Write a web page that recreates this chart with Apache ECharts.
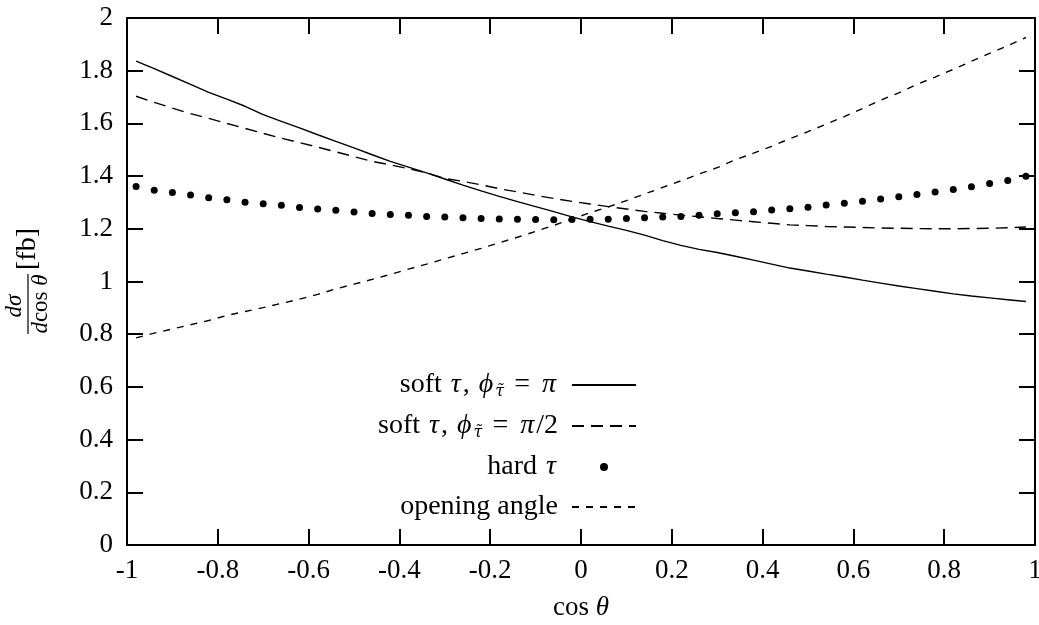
<!DOCTYPE html>
<html>
<head>
<meta charset="utf-8">
<script src="https://cdn.jsdelivr.net/npm/echarts@6/dist/echarts.min.js"></script>
<style>
  html, body { margin: 0; padding: 0; background: #fff; }
  #chart { width: 1039px; height: 625px; }
</style>
</head>
<body>
<div id="chart"></div>
<script>
// Sampling points along cos(theta)
const cosTheta = [
  -0.98, -0.94, -0.90, -0.86, -0.82, -0.78, -0.74, -0.70, -0.66, -0.62,
  -0.58, -0.54, -0.50, -0.46, -0.42, -0.38, -0.34, -0.30, -0.26, -0.22,
  -0.18, -0.14, -0.10, -0.06, -0.02, 0.02, 0.06, 0.10, 0.14, 0.18,
  0.22, 0.26, 0.30, 0.34, 0.38, 0.42, 0.46, 0.50, 0.54, 0.58,
  0.62, 0.66, 0.70, 0.74, 0.78, 0.82, 0.86, 0.90, 0.94, 0.98
];

// dσ/dcosθ [fb], soft tau, phi = pi
const softPi = [
  1.836, 1.808, 1.778, 1.748, 1.718, 1.692, 1.665, 1.633, 1.608, 1.583,
  1.557, 1.532, 1.507, 1.481, 1.456, 1.434, 1.412, 1.389, 1.366, 1.344,
  1.323, 1.303, 1.284, 1.265, 1.245, 1.227, 1.210, 1.194, 1.176, 1.155,
  1.137, 1.122, 1.110, 1.096, 1.081, 1.066, 1.051, 1.040, 1.028, 1.017,
  1.005, 0.994, 0.983, 0.973, 0.963, 0.953, 0.945, 0.938, 0.931, 0.924
];

// soft tau, phi = pi/2
const softHalfPi = [
  1.703, 1.680, 1.658, 1.637, 1.619, 1.600, 1.581, 1.562, 1.544, 1.527,
  1.510, 1.492, 1.474, 1.456, 1.443, 1.428, 1.412, 1.391, 1.380, 1.367,
  1.352, 1.340, 1.327, 1.315, 1.304, 1.294, 1.284, 1.275, 1.266, 1.259,
  1.252, 1.246, 1.239, 1.233, 1.227, 1.221, 1.215, 1.212, 1.209, 1.207,
  1.205, 1.203, 1.202, 1.201, 1.200, 1.200, 1.201, 1.202, 1.204, 1.207
];

// hard tau
const hardTau = [
  1.361, 1.346, 1.338, 1.328, 1.318, 1.310, 1.301, 1.295, 1.289, 1.281,
  1.275, 1.270, 1.264, 1.258, 1.254, 1.251, 1.247, 1.245, 1.242, 1.239,
  1.237, 1.236, 1.235, 1.234, 1.235, 1.236, 1.236, 1.239, 1.242, 1.245,
  1.247, 1.251, 1.257, 1.261, 1.265, 1.271, 1.276, 1.282, 1.290, 1.297,
  1.305, 1.313, 1.322, 1.330, 1.340, 1.349, 1.360, 1.372, 1.383, 1.399
];

// opening angle
const openingAngle = [
  0.786, 0.804, 0.820, 0.836, 0.852, 0.871, 0.886, 0.901, 0.917, 0.933,
  0.951, 0.972, 0.990, 1.008, 1.027, 1.047, 1.066, 1.086, 1.106, 1.126,
  1.147, 1.168, 1.190, 1.213, 1.237, 1.261, 1.283, 1.307, 1.332, 1.357,
  1.382, 1.408, 1.432, 1.462, 1.487, 1.513, 1.542, 1.569, 1.597, 1.626,
  1.656, 1.688, 1.716, 1.748, 1.776, 1.805, 1.836, 1.866, 1.895, 1.926
];

const seriesNames = ['soft τ, ϕτ̃ = π', 'soft τ, ϕτ̃ = π/2', 'hard τ', 'opening angle'];
const legendLabels = {
  'soft τ, ϕτ̃ = π': '{r|soft }{i|τ}{r|, }{i|ϕ}{sub|τ̃}{eq|=}{i|π}{g| }',
  'soft τ, ϕτ̃ = π/2': '{r|soft }{i|τ}{r|, }{i|ϕ}{sub|τ̃}{eq|=}{i|π}{r|/2}{g| }',
  'hard τ': '{r|hard }{i|τ}{g| }',
  'opening angle': '{r|opening angle}{g| }'
};

const serif = 'Liberation Serif';
const ink = '#000';
const frame = { color: ink, width: 2 };

function pairs(ys) {
  return cosTheta.map((x, i) => [x, ys[i]]);
}

const richText = {
  r: { fontFamily: serif, fontSize: 28, color: ink },
  i: { fontFamily: serif, fontSize: 28, fontStyle: 'italic', color: ink, padding: [0, 2, 0, 2] },
  sub: { fontFamily: 'DejaVu Serif', fontSize: 16, fontStyle: 'italic', color: ink, padding: [14, 0, 0, 0] },
  eq: { fontFamily: serif, fontSize: 28, color: ink, padding: [0, 10, 0, 10] },
  g: { width: 9 }
};

const nameRich = {
  r: { fontFamily: serif, fontSize: 27, color: ink },
  i: { fontFamily: serif, fontSize: 27, fontStyle: 'italic', color: ink }
};

const lineLegendItem = name => ({ name, itemStyle: { opacity: 0 } });

const chart = echarts.init(document.getElementById('chart'), null, { renderer: 'canvas' });

chart.setOption({
  animation: false,
  backgroundColor: '#fff',
  grid: { left: 127, right: 4, top: 18, bottom: 80, containLabel: false, outerBoundsMode: 'none' },
  legend: {
    orient: 'vertical',
    align: 'right',
    right: 402,
    top: 371,
    padding: 0,
    itemGap: 12,
    itemWidth: 64,
    itemHeight: 8,
    selectedMode: false,
    data: [
      lineLegendItem(seriesNames[0]),
      lineLegendItem(seriesNames[1]),
      { name: seriesNames[2] },
      lineLegendItem(seriesNames[3])
    ],
    formatter: name => legendLabels[name],
    textStyle: { color: ink, fontFamily: serif, fontSize: 28, lineHeight: 28, rich: richText }
  },
  xAxis: [
    {
      type: 'value', min: -1, max: 1, interval: 0.2, position: 'bottom',
      axisLine: { show: true, onZero: false, lineStyle: frame },
      axisTick: { show: true, inside: true, length: 16, lineStyle: frame },
      axisLabel: { color: ink, fontFamily: serif, fontSize: 27, margin: 12 },
      splitLine: { show: false },
      name: '{r|cos }{i|θ}',
      nameLocation: 'middle',
      nameGap: 49,
      nameTextStyle: { rich: nameRich }
    },
    {
      type: 'value', min: -1, max: 1, interval: 0.2, position: 'top',
      axisLine: { show: true, onZero: false, lineStyle: frame },
      axisTick: { show: true, inside: true, length: 16, lineStyle: frame },
      axisLabel: { show: false },
      splitLine: { show: false }
    }
  ],
  yAxis: [
    {
      type: 'value', min: 0, max: 2, interval: 0.2, position: 'left',
      axisLine: { show: true, onZero: false, lineStyle: frame },
      axisTick: { show: true, inside: true, length: 16, lineStyle: frame },
      axisLabel: { color: ink, fontFamily: serif, fontSize: 27, margin: 14 },
      splitLine: { show: false }
    },
    {
      type: 'value', min: 0, max: 2, interval: 0.2, position: 'right',
      axisLine: { show: true, onZero: false, lineStyle: frame },
      axisTick: { show: true, inside: true, length: 16, lineStyle: frame },
      axisLabel: { show: false },
      splitLine: { show: false }
    }
  ],
  series: [
    {
      name: seriesNames[0], type: 'line', data: pairs(softPi),
      symbol: 'none', lineStyle: { color: ink, width: 1.4, type: 'solid' },
      itemStyle: { color: ink }
    },
    {
      name: seriesNames[1], type: 'line', data: pairs(softHalfPi),
      symbol: 'none', lineStyle: { color: ink, width: 1.4, type: [12, 7] },
      itemStyle: { color: ink }
    },
    {
      name: seriesNames[2], type: 'scatter', data: pairs(hardTau),
      symbol: 'circle', symbolSize: 7, itemStyle: { color: ink, opacity: 1 }
    },
    {
      name: seriesNames[3], type: 'line', data: pairs(openingAngle),
      symbol: 'none', lineStyle: { color: ink, width: 1.4, type: [7, 7] },
      itemStyle: { color: ink }
    }
  ],
  graphic: [
    {
      // rotated y-axis title: dσ / (d cos θ) [fb]
      type: 'group',
      x: 28, y: 304,
      rotation: Math.PI / 2,
      children: [
        {
          type: 'text', x: -2, y: -13,
          style: { text: '{i|dσ}', rich: { i: { fontFamily: serif, fontSize: 23, fontStyle: 'italic', color: ink } },
                   align: 'center', verticalAlign: 'middle' }
        },
        {
          type: 'line',
          shape: { x1: -30, y1: 0, x2: 30, y2: 0 },
          style: { stroke: ink, lineWidth: 1.2 }
        },
        {
          type: 'text', x: 0, y: 13,
          style: { text: '{i|d}{r|cos }{i|θ}',
                   rich: { i: { fontFamily: serif, fontSize: 23, fontStyle: 'italic', color: ink },
                           r: { fontFamily: serif, fontSize: 23, color: ink } },
                   align: 'center', verticalAlign: 'middle' }
        },
        {
          type: 'text', x: 55, y: 0,
          style: { text: '[fb]', fontFamily: serif, fontSize: 28, fill: ink,
                   align: 'center', verticalAlign: 'middle' }
        }
      ]
    }
  ]
});
</script>
</body>
</html>
